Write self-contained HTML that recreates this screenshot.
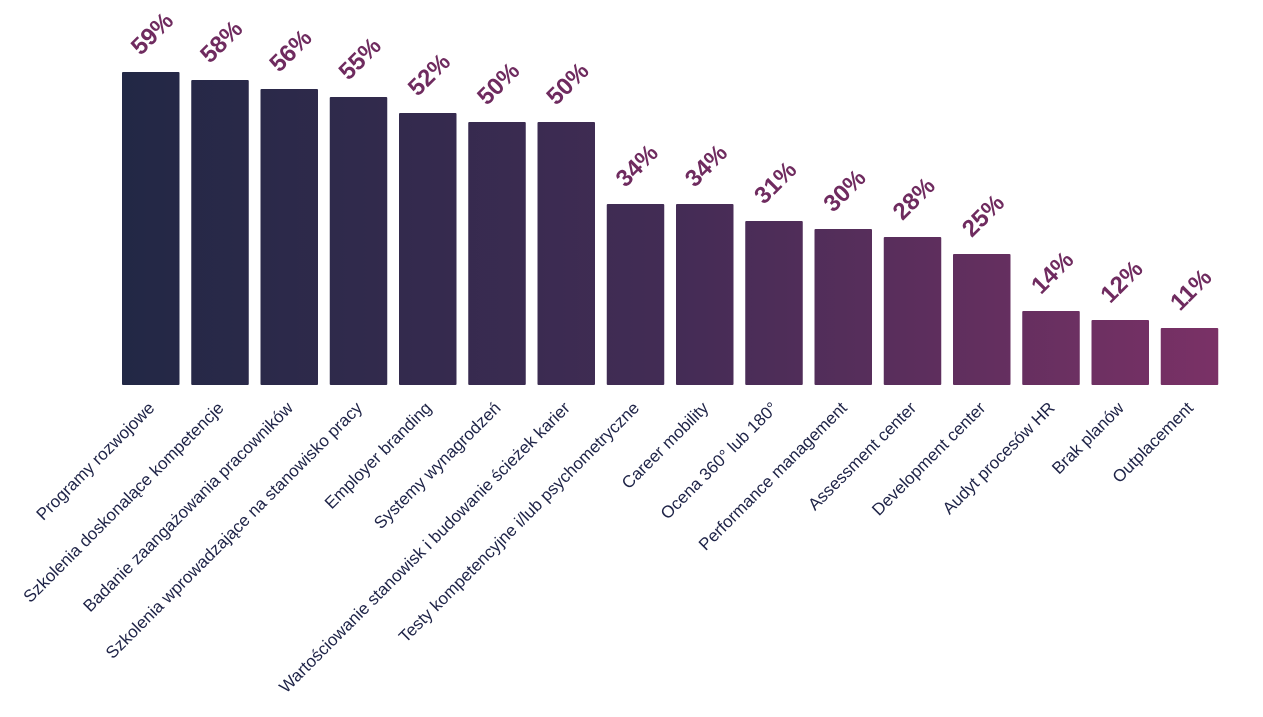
<!DOCTYPE html>
<html><head><meta charset="utf-8"><style>body{margin:0;background:#fff}svg{display:block}</style></head><body>
<svg width="1263" height="717" xmlns="http://www.w3.org/2000/svg" font-family="Liberation Sans, sans-serif">
<defs><linearGradient id="g" gradientUnits="userSpaceOnUse" x1="122" y1="0" x2="1220" y2="0"><stop offset="0" stop-color="#222845"/><stop offset="0.5" stop-color="#432c55"/><stop offset="1" stop-color="#7a3166"/></linearGradient></defs>
<g id="c"></g>
</svg>
<script>
var d=[["Programy rozwojowe",59,72],["Szkolenia doskonalące kompetencje",58,80],["Badanie zaangażowania pracowników",56,89],["Szkolenia wprowadzające na stanowisko pracy",55,97],["Employer branding",52,113],["Systemy wynagrodzeń",50,122],["Wartościowanie stanowisk i budowanie ścieżek karier",50,122],["Testy kompetencyjne i/lub psychometryczne",34,204],["Career mobility",34,204],["Ocena 360° lub 180°",31,221],["Performance management",30,229],["Assessment center",28,237],["Development center",25,254],["Audyt procesów HR",14,311],["Brak planów",12,320],["Outplacement",11,328]];
var s="";d.forEach(function(e,i){var x=122+i*69.25,cx=x+28.5,top=e[2];
s+='<rect x="'+x+'" y="'+top+'" width="57.5" height="'+(385-top)+'" fill="url(#g)" rx="1"/>';
s+='<text x="'+(cx+2)+'" y="'+(top-38)+'" text-anchor="middle" dominant-baseline="central" font-size="24" font-weight="bold" fill="#6f2b5f" transform="rotate(-45 '+(cx+2)+' '+(top-38)+')">'+e[1]+'%</text>';
s+='<text x="'+(cx+5)+'" y="'+409+'" text-anchor="end" font-size="17" fill="#1e2347" transform="rotate(-45 '+(cx+5)+' 409)">'+e[0]+'</text>';});
document.getElementById("c").innerHTML=s;
</script>
</body></html>
